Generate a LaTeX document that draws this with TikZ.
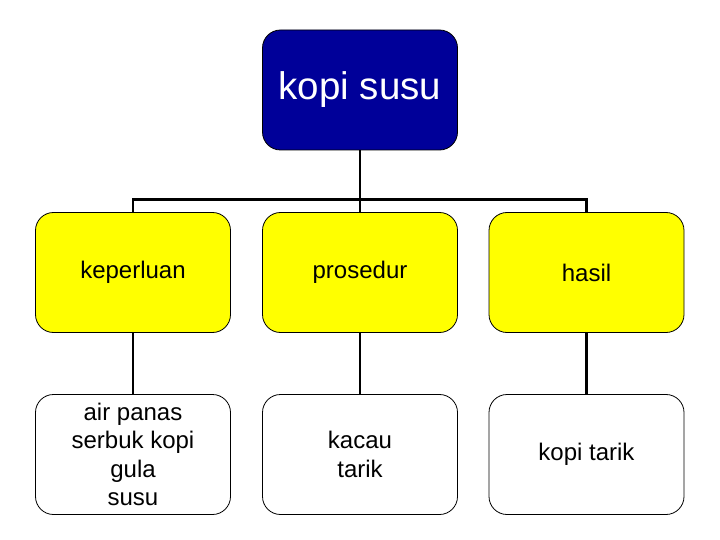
\documentclass[tikz,border=0pt]{standalone}
\usepackage{fontspec}
\setmainfont{Liberation Sans}
\usepackage{tikz}
\usetikzlibrary{positioning}
\definecolor{kopiblue}{RGB}{0,0,153}
\definecolor{kopiyellow}{RGB}{255,255,0}
\tikzset{
  kotak/.style={draw=black, line width=0.8bp, rounded corners=18bp,
    minimum width=195bp, minimum height=120bp, inner sep=0pt,
    align=center, font=\fontsize{24bp}{28.5bp}\selectfont},
  judul/.style={kotak, fill=kopiblue, text=white, font=\fontsize{38.5bp}{44bp}\selectfont},
  kuning/.style={kotak, fill=kopiyellow},
  putih/.style={kotak, fill=white},
  garis/.style={line width=2.6bp, black}
}
\begin{document}
\begin{tikzpicture}[x=1bp,y=-1bp]
\useasboundingbox (0,0) rectangle (720,540);
\node[judul] (kopisusu) at (360,90) {kopi susu};

\node[kuning] (keperluan) at (133,272.5) {keperluan};
\node[kuning] (prosedur) at (360,272.5) {prosedur};
\node[kuning] (hasil) at (586.5,272.5) {hasil};

\node[putih] (bahan) at (133,454.5) {air panas\\serbuk kopi\\gula\\susu};
\node[putih] (cara) at (360,454.5) {kacau\\tarik};
\node[putih] (hasilnya) at (586.5,454.5) {kopi tarik};

\coordinate (cabang) at (360,199.5);
\draw[garis] (kopisusu.south) -- (prosedur.north);
\draw[garis] (keperluan.north) |- (cabang) -| (hasil.north);
\draw[garis] (keperluan.south) -- (bahan.north);
\draw[garis] (prosedur.south) -- (cara.north);
\draw[garis] (hasil.south) -- (hasilnya.north);
\end{tikzpicture}
\end{document}
